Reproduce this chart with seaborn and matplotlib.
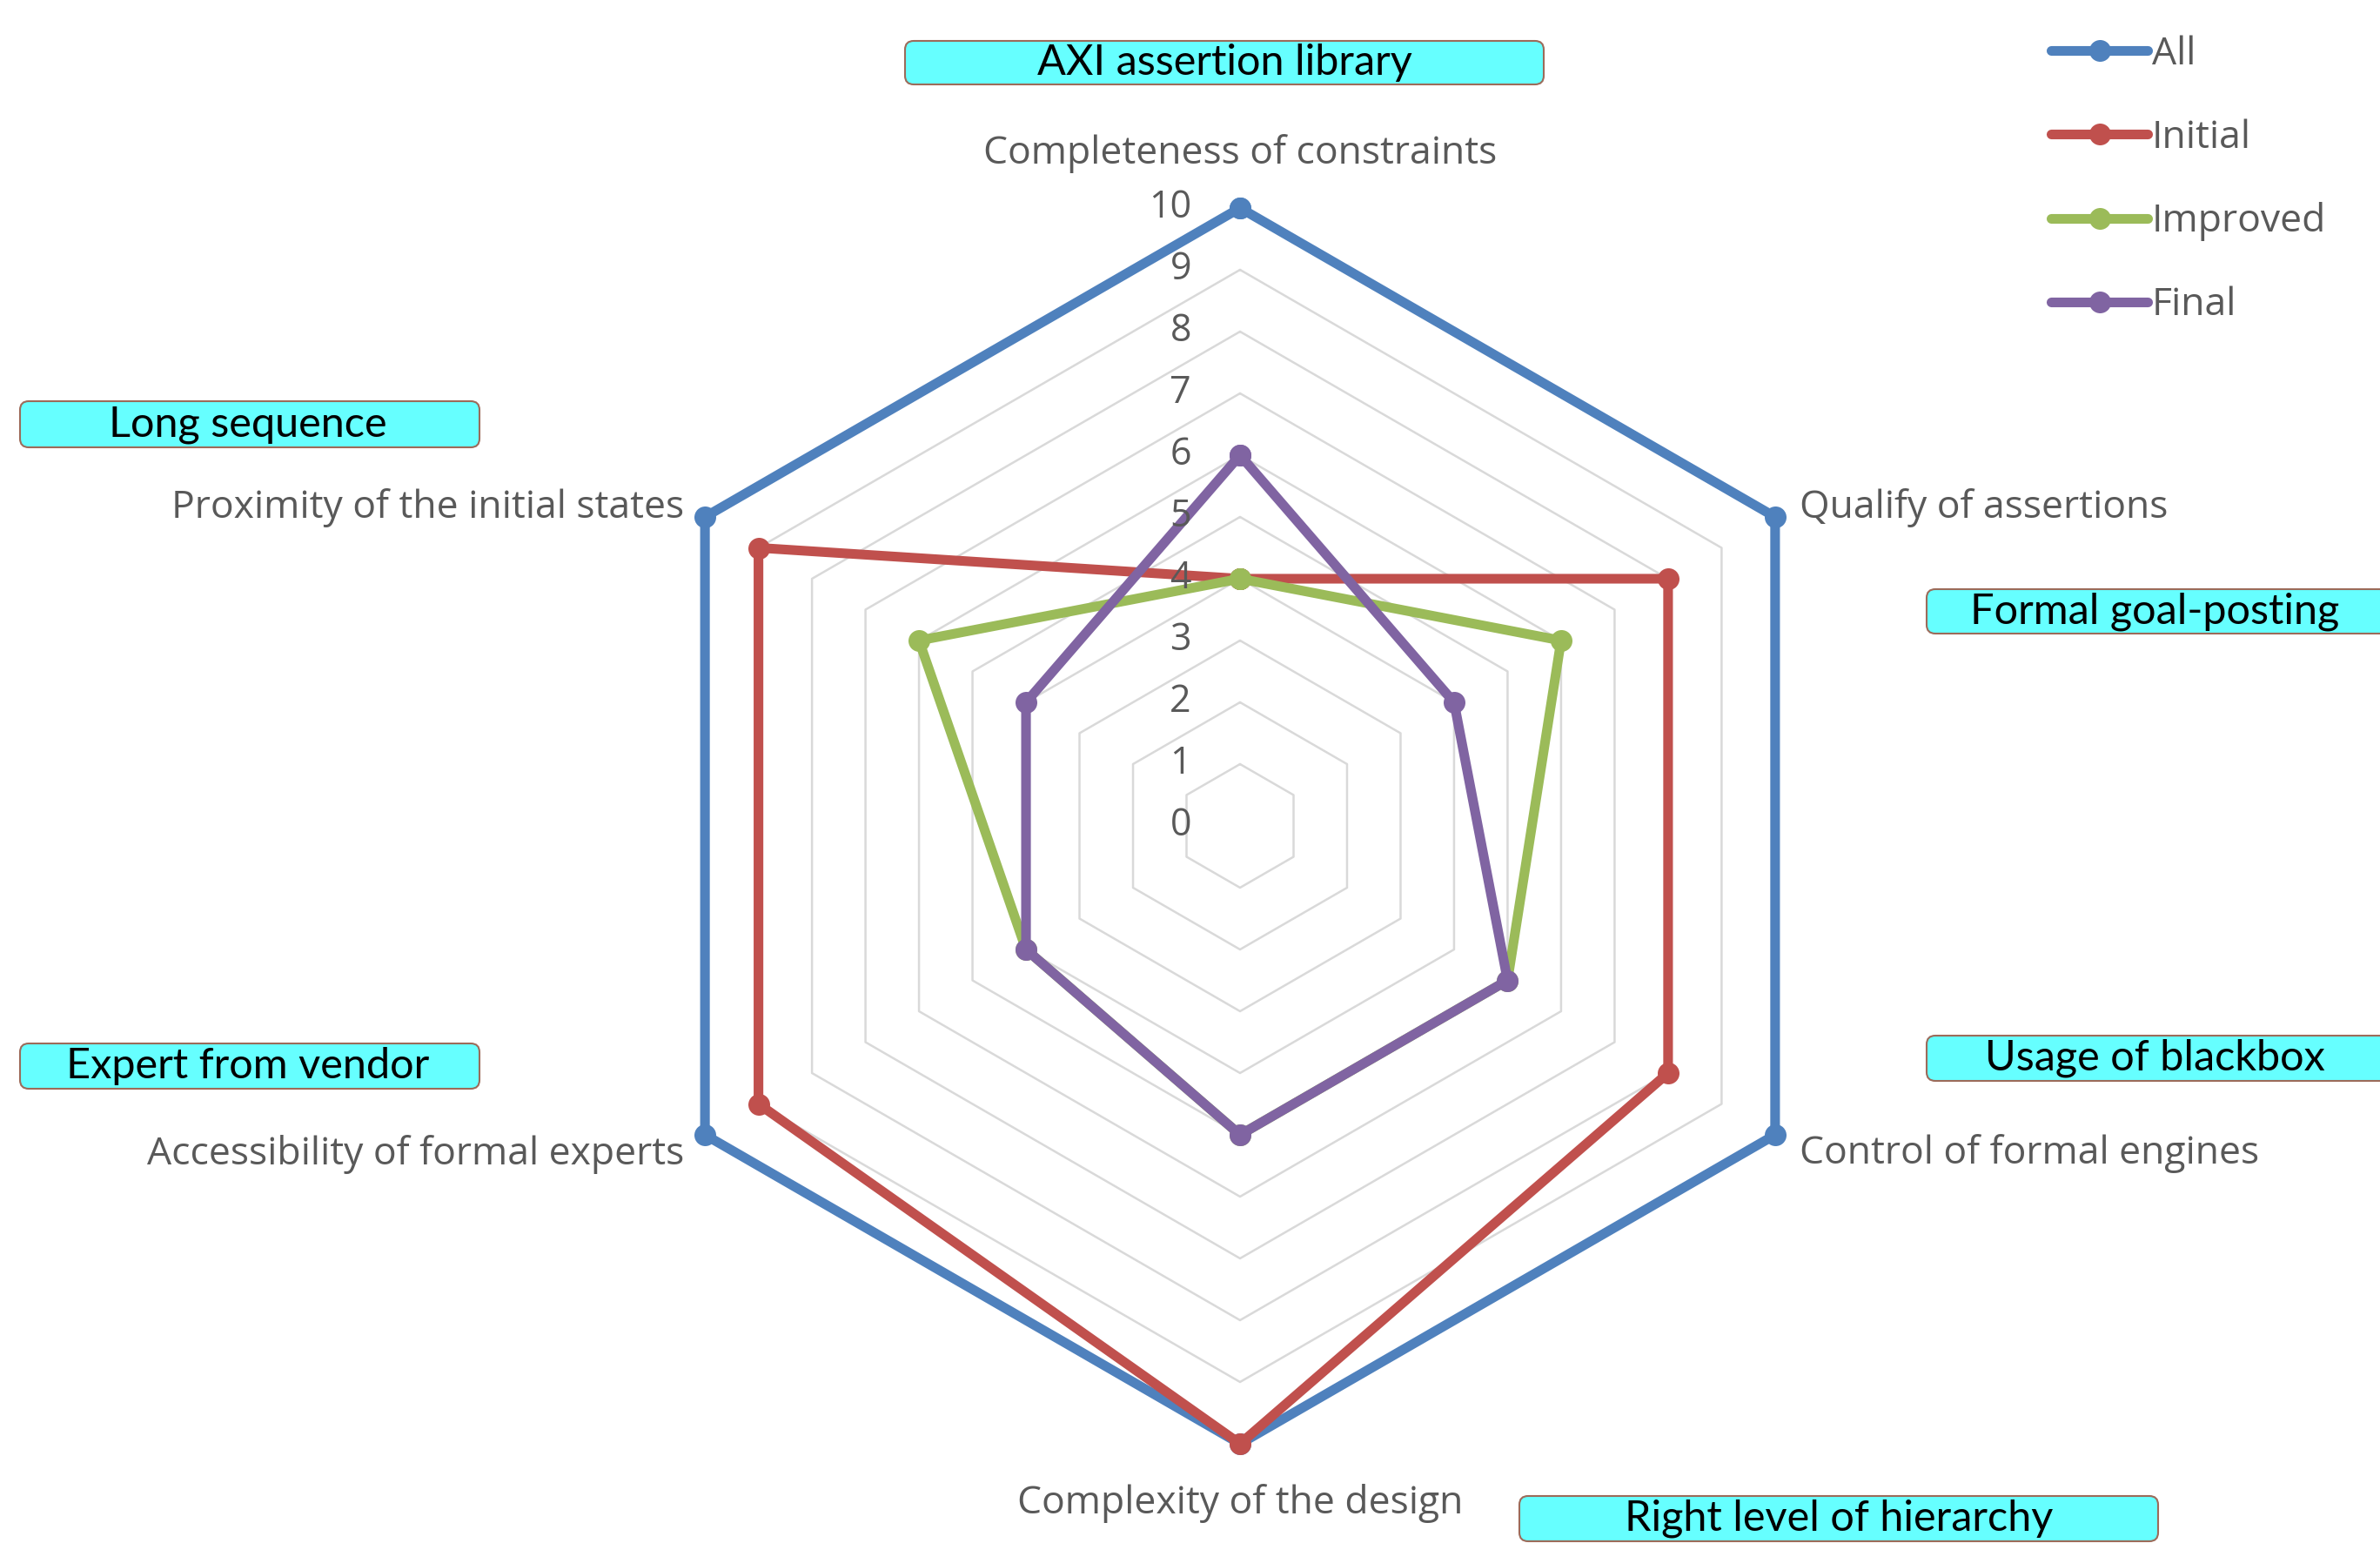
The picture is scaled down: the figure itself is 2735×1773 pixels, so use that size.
import numpy as np
import pandas as pd
import matplotlib.pyplot as plt
import seaborn as sns
from matplotlib.lines import Line2D
from matplotlib.patches import FancyBboxPatch
from matplotlib.transforms import IdentityTransform

# data
categories = ["Completeness of constraints", "Qualify of assertions", "Control of formal engines",
              "Complexity of the design", "Accessibility of formal experts", "Proximity of the initial states"]
all_vals = [10, 10, 10, 10, 10, 10]
initial_vals = [4, 8, 8, 10, 9, 9]
improved_vals = [4, 6, 5, 5, 4, 6]
final_vals = [6, 4, 5, 5, 4, 4]
series_names = ["All", "Initial", "Improved", "Final"]
series_colors = ["#4F81BD", "#C0504D", "#9BBB59", "#8064A2"]
levels = list(range(0, 11))

# cyan notes around the chart
notes = ["AXI assertion library", "Long sequence", "Formal goal-posting",
         "Usage of blackbox", "Expert from vendor", "Right level of hierarchy"]
# box left, top, width, height in pixels
note_boxes = [(1040, 47, 734, 50), (23, 461, 528, 53), (2214, 677, 540, 51),
              (2214, 1190, 540, 52), (23, 1199, 528, 52), (1746, 1719, 734, 52)]

W, H = 2735, 1773
n = len(categories)
theta = np.linspace(0, 2 * np.pi, n, endpoint=False)
theta_closed = np.append(theta, 2 * np.pi)

rows = []
for name, vals in zip(series_names, [all_vals, initial_vals, improved_vals, final_vals]):
    closed = list(vals) + [vals[0]]
    for t, v in zip(theta_closed, closed):
        rows.append({"series": name, "theta": t, "value": v})
df = pd.DataFrame(rows)

sns.set_theme(style="white")
plt.rcParams['font.family'] = ['Open Sans', 'DejaVu Sans']
grey = "#595959"

fig = plt.figure(figsize=(W / 100, H / 100), dpi=100)
cx, cy, rad = 1425, 949, 781  # centre and radius (r=11) in pixels
ax = fig.add_axes([(cx - rad) / W, (H - cy - rad) / H, 2 * rad / W, 2 * rad / H], projection='polar')
ax.set_theta_zero_location('N')
ax.set_theta_direction(-1)
ax.set_ylim(0, 11)
ax.grid(False)
ax.spines['polar'].set_visible(False)
ax.set_xticks([])
ax.set_yticks([])
ax.patch.set_alpha(0)

# hexagonal gridlines
for lv in levels[1:]:
    ax.plot(theta_closed, [lv] * len(theta_closed), color="#D9D9D9", lw=1.8, zorder=1)

sns.lineplot(data=df, x="theta", y="value", hue="series", hue_order=series_names,
             palette=dict(zip(series_names, series_colors)), sort=False, estimator=None,
             marker="o", markersize=18, markeredgewidth=0, linewidth=8, legend=False, ax=ax)
ax.set_xlabel("")
ax.set_ylabel("")

# value labels along the top axis
for lv in levels:
    ax.annotate(str(lv), xy=(0, lv), xytext=(-56, 0), textcoords='offset pixels',
                ha='right', va='center', fontsize=31, color=grey)

# category labels
offsets = [(0, 62, 'center', 'center'), (28, 10, 'left', 'center'), (28, -22, 'left', 'center'),
           (0, -68, 'center', 'center'), (-24, -22, 'right', 'center'), (-24, 10, 'right', 'center')]
for t, cat, (dx, dy, ha, va) in zip(theta, categories, offsets):
    ax.annotate(cat, xy=(t, 10), xytext=(dx, dy), textcoords='offset pixels',
                ha=ha, va=va, fontsize=32, color=grey)

# notes in cyan boxes
for text, (x0, y0, bw, bh) in zip(notes, note_boxes):
    box = FancyBboxPatch((x0, H - y0 - bh), bw, bh, boxstyle="round,pad=0,rounding_size=10",
                         facecolor="#66FFFF", edgecolor="#9C6B5A", lw=1.5,
                         transform=IdentityTransform())
    fig.add_artist(box)
    tx = min(x0 + bw / 2, x0 + 262) if bw < 600 else x0 + bw / 2
    fig.text(tx / W, (H - y0 - bh / 2) / H, text, ha='center', va='center',
             fontsize=35, family=['Lato', 'DejaVu Sans'], color="black")

handles = [Line2D([], [], color=c, lw=8, marker='o', markersize=18, markeredgewidth=0)
           for c in series_colors]
fig.legend(handles, series_names, loc='upper left', bbox_to_anchor=(2335 / W, 1 - 18 / H),
           frameon=False, fontsize=32, labelcolor=grey, handlelength=2.5,
           handletextpad=0.1, labelspacing=1.16, borderpad=0)

fig.savefig("out.png", dpi=100)
